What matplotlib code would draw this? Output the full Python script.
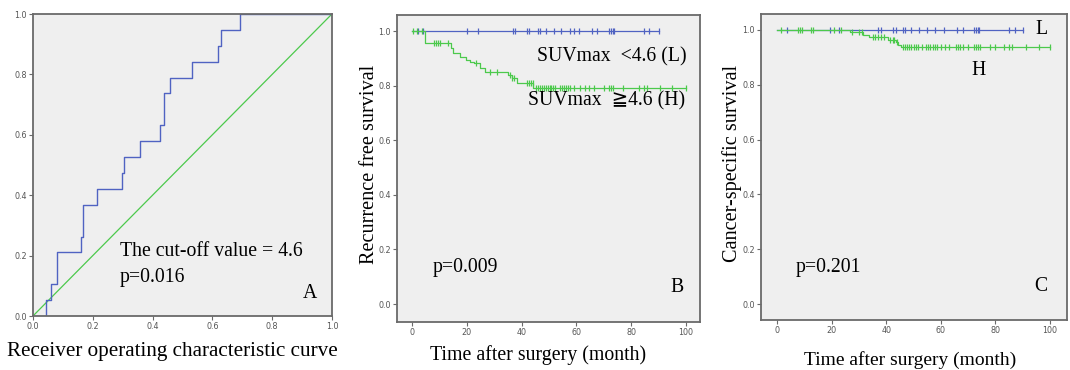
import numpy as np
import matplotlib
matplotlib.use("Agg")
import matplotlib.pyplot as plt

# ---------------- data ----------------
# Panel A: ROC curve vertices (false positive rate, true positive rate)
roc_fpr = [0.0, 0.042, 0.042, 0.061, 0.061, 0.080, 0.080, 0.162, 0.162, 0.167, 0.167,
           0.215, 0.215, 0.298, 0.298, 0.304, 0.304, 0.358, 0.358, 0.424, 0.424,
           0.440, 0.440, 0.459, 0.459, 0.532, 0.532, 0.620, 0.620, 0.628, 0.628,
           0.693, 0.693, 1.0]
roc_tpr = [0.0, 0.0, 0.053, 0.053, 0.105, 0.105, 0.211, 0.211, 0.263, 0.263, 0.368,
           0.368, 0.421, 0.421, 0.474, 0.474, 0.526, 0.526, 0.579, 0.579, 0.632,
           0.632, 0.737, 0.737, 0.789, 0.789, 0.842, 0.842, 0.895, 0.895, 0.947,
           0.947, 1.0, 1.0]

# Panel B: recurrence free survival
b_low_end = 90.0
b_low_censor = [2.1, 3.9, 20.1, 24.0, 36.9, 37.6, 42.0, 42.8, 46.1, 46.8, 49.0, 51.9,
                54.4, 57.5, 59.0, 60.9, 65.8, 67.6, 71.9, 72.6, 73.4, 73.8, 84.8, 86.6, 90.0]
b_high_times = [0.0, 4.7, 14.1, 14.8, 17.5, 19.7, 21.2, 22.7, 24.8, 26.7, 35.2, 36.4, 38.2, 44.3]
b_high_surv = [1.0, 0.957, 0.938, 0.918, 0.904, 0.896, 0.888, 0.882, 0.866, 0.851, 0.839,
               0.827, 0.809, 0.790]
b_high_end = 100.0
b_high_censor = [0.5, 1.9, 3.8, 8.1, 8.8, 9.5, 10.2, 13.3, 23.4, 28.5, 30.9, 35.8, 36.5,
                 37.2, 41.8, 42.6, 43.3, 44.0, 45.3, 46.0, 46.7, 47.4, 48.1, 48.8, 49.5,
                 50.2, 50.9, 51.6, 52.3, 54.0, 54.7, 55.4, 56.1, 56.8, 57.5, 59.0, 61.4,
                 63.3, 64.5, 66.3, 70.0, 71.9, 72.6, 73.4, 77.0, 82.7, 84.5, 85.8, 90.6,
                 94.9, 100.0]

# Panel C: cancer-specific survival
c_low_end = 90.0
c_low_censor = [3.8, 19.5, 22.5, 37.0, 38.0, 42.5, 43.5, 46.0, 47.0, 49.0, 52.0, 55.0,
                58.0, 61.0, 66.0, 68.0, 72.0, 72.8, 73.5, 74.0, 85.0, 87.0, 90.0]
c_high_times = [0.0, 26.7, 31.6, 33.8, 40.7, 43.5, 44.4, 45.3]
c_high_surv = [1.0, 0.991, 0.982, 0.973, 0.964, 0.955, 0.945, 0.936]
c_high_end = 100.0
c_high_censor = [1.5, 7.5, 8.5, 9.3, 12.5, 13.3, 21.0, 23.5, 27.5, 30.0, 31.0, 35.0, 36.0,
                 37.0, 38.0, 39.0, 41.5, 42.3, 43.0, 44.0, 46.0, 46.8, 47.6, 48.4, 49.2,
                 50.0, 50.8, 51.6, 53.0, 54.5, 55.3, 56.1, 57.0, 57.8, 58.6, 60.0, 61.5,
                 63.0, 65.5, 66.3, 67.1, 68.0, 70.0, 72.0, 72.8, 73.6, 74.4, 78.0, 80.0,
                 83.0, 85.0, 86.0, 91.0, 96.0, 100.0]

blue = "#5063c2"
green = "#4cc94c"
bg = "#efefef"
spine_col = "#6a6a6a"
serif = ["Liberation Serif", "DejaVu Sans", "Noto Sans CJK JP"]
FS = 14.2

fig = plt.figure(figsize=(10.7, 3.7), dpi=100)

def style_axes(ax):
    ax.set_facecolor(bg)
    for s in ax.spines.values():
        s.set_color(spine_col)
        s.set_linewidth(1.3)
    ax.tick_params(direction="out", length=3, width=0.8, color=spine_col,
                   labelsize=5.8, labelcolor="#555555", pad=1.5)

def step_vals(times, surv, t):
    idx = np.searchsorted(times, t, side="right") - 1
    return np.asarray(surv)[idx]

def km(ax, times, surv, end, censor, color):
    t = list(times) + [end]
    s = list(surv) + [surv[-1]]
    ax.step(t, s, where="post", color=color, lw=0.9)
    cy = step_vals(np.asarray(times), surv, np.asarray(censor))
    ax.plot(censor, cy, ls="none", marker="|", ms=5, mew=0.9, color=color)

# ---- Panel A ----
axA = fig.add_axes([0.0308, 0.1459, 0.2794, 0.8162])
style_axes(axA)
axA.plot([0, 1], [0, 1], color=green, lw=0.9)
axA.plot(roc_fpr, roc_tpr, color=blue, lw=1.0)
axA.set_xlim(0, 1)
axA.set_ylim(0, 1)
axA.set_xticks(np.arange(0, 1.01, 0.2))
axA.set_yticks(np.arange(0, 1.01, 0.2))
axA.xaxis.set_major_formatter(matplotlib.ticker.FormatStrFormatter("%.1f"))
axA.yaxis.set_major_formatter(matplotlib.ticker.FormatStrFormatter("%.1f"))
axA.text(0.291, 0.212, "The cut-off value = 4.6", transform=axA.transAxes,
         family=serif, fontsize=FS, va="center", ha="left")
axA.text(0.291, 0.129, "p=0.016", transform=axA.transAxes,
         family=serif, fontsize=FS, va="center", ha="left")
axA.text(0.926, 0.076, "A", transform=axA.transAxes,
         family=serif, fontsize=FS, va="center", ha="center")
axA.set_xlabel("Receiver operating characteristic curve", family=serif, fontsize=15.2)
axA.xaxis.set_label_coords(0.468, -0.119)
axA.xaxis.label.set_va("center")

# ---- Panel B ----
axB = fig.add_axes([0.3710, 0.1297, 0.2832, 0.8297])
style_axes(axB)
axB.plot([0, b_low_end], [1.0, 1.0], color=blue, lw=0.9)
axB.plot(b_low_censor, [1.0] * len(b_low_censor), ls="none", marker="|", ms=5,
         mew=0.9, color=blue)
km(axB, b_high_times, b_high_surv, b_high_end, b_high_censor, green)
axB.set_xlim(-5.5, 105.1)
axB.set_ylim(-0.066, 1.059)
axB.set_xticks(np.arange(0, 101, 20))
axB.set_yticks(np.arange(0, 1.01, 0.2))
axB.yaxis.set_major_formatter(matplotlib.ticker.FormatStrFormatter("%.1f"))
axB.text(0.957, 0.863, "SUVmax  <4.6 (L)", transform=axB.transAxes,
         family=serif, fontsize=FS, va="center", ha="right")
axB.text(0.950, 0.722, "SUVmax  \u22674.6 (H)", transform=axB.transAxes,
         family=serif, fontsize=FS, va="center", ha="right")
axB.text(0.119, 0.176, "p=0.009", transform=axB.transAxes,
         family=serif, fontsize=FS, va="center", ha="left")
axB.text(0.924, 0.114, "B", transform=axB.transAxes,
         family=serif, fontsize=FS, va="center", ha="center")
axB.set_xlabel("Time after surgery (month)", family=serif, fontsize=14.3)
axB.xaxis.set_label_coords(0.465, -0.107)
axB.xaxis.label.set_va("center")
axB.set_ylabel("Recurrence free survival", family=serif, fontsize=14.6)
axB.yaxis.set_label_coords(-0.092, 0.515)
axB.yaxis.label.set_va("center")

# ---- Panel C ----
axC = fig.add_axes([0.7112, 0.1351, 0.2860, 0.8270])
style_axes(axC)
axC.plot([0, c_low_end], [1.0, 1.0], color=blue, lw=0.9)
axC.plot(c_low_censor, [1.0] * len(c_low_censor), ls="none", marker="|", ms=5,
         mew=0.9, color=blue)
km(axC, c_high_times, c_high_surv, c_high_end, c_high_censor, green)
axC.set_xlim(-5.9, 106.2)
axC.set_ylim(-0.058, 1.058)
axC.set_xticks(np.arange(0, 101, 20))
axC.set_yticks(np.arange(0, 1.01, 0.2))
axC.yaxis.set_major_formatter(matplotlib.ticker.FormatStrFormatter("%.1f"))
axC.text(0.918, 0.948, "L", transform=axC.transAxes,
         family=serif, fontsize=FS, va="center", ha="center")
axC.text(0.712, 0.817, "H", transform=axC.transAxes,
         family=serif, fontsize=FS, va="center", ha="center")
axC.text(0.114, 0.170, "p=0.201", transform=axC.transAxes,
         family=serif, fontsize=FS, va="center", ha="left")
axC.text(0.915, 0.111, "C", transform=axC.transAxes,
         family=serif, fontsize=FS, va="center", ha="center")
axC.set_xlabel("Time after surgery (month)", family=serif, fontsize=14.0)
axC.xaxis.set_label_coords(0.487, -0.131)
axC.xaxis.label.set_va("center")
axC.set_ylabel("Cancer-specific survival", family=serif, fontsize=14.6)
axC.yaxis.set_label_coords(-0.095, 0.513)
axC.yaxis.label.set_va("center")

fig.savefig("out.png", dpi=100, facecolor="white")
